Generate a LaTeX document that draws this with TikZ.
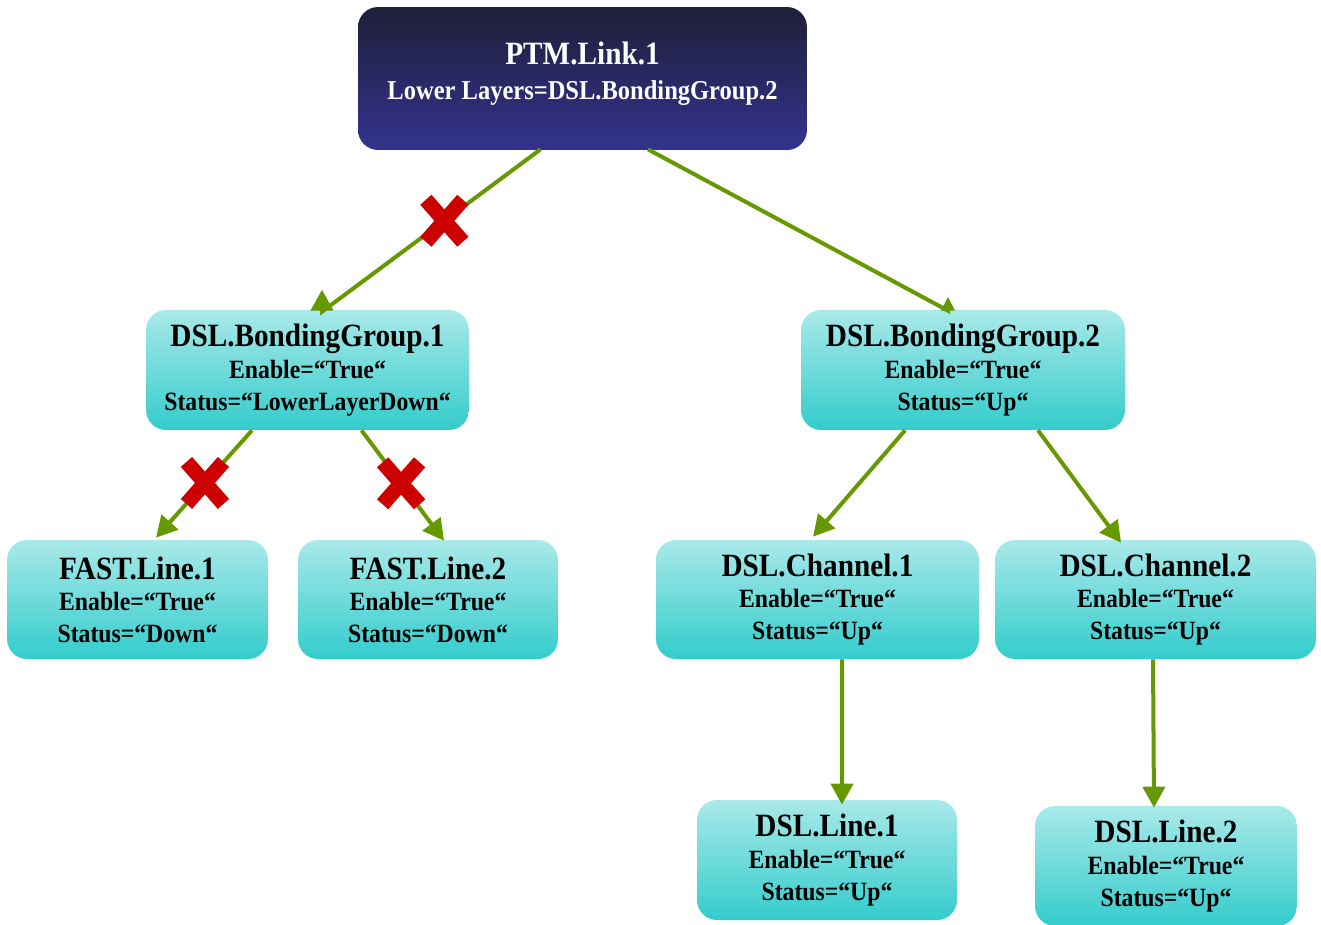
\documentclass[tikz,border=0pt]{standalone}
\usepackage{fontspec}
\setmainfont{Liberation Serif}
\newfontfamily\boxfont{Liberation Serif}[FakeStretch=0.9]
\usetikzlibrary{arrows.meta, calc, shapes.misc}
\definecolor{boxtop}{RGB}{170,233,233}
\definecolor{boxbot}{RGB}{51,204,204}
\definecolor{linktop}{RGB}{31,31,56}
\definecolor{linkbot}{RGB}{51,51,143}
\definecolor{wiregreen}{RGB}{102,153,0}
\definecolor{failred}{RGB}{204,0,0}
\newcommand{\boxtitle}[1]{{\fontsize{18.5}{18}\selectfont #1}}

\begin{document}
\begin{tikzpicture}[x=0.02cm,y=-0.02cm,
  every node/.style={font=\boxfont\bfseries\fontsize{15}{18}\selectfont,align=center},
  obj/.style={rounded corners=0.4cm,top color=boxtop,bottom color=boxbot,minimum width=6.46cm,minimum height=2.4cm,inner sep=0pt},
  wire/.style={-{Triangle[length=0.42cm,width=0.44cm]},line width=0.08cm,wiregreen},
  fail/.style={cross out,draw=failred,line width=0.3cm,minimum width=0.74cm,minimum height=0.84cm,inner sep=0pt,outer sep=0pt}]
  \useasboundingbox (0,0) rectangle (1321,924);
  \node[obj,top color=linktop,bottom color=linkbot,text=white,text depth=0.32cm,minimum width=8.98cm,minimum height=2.86cm](ptm) at(582.5,78.5){\boxtitle{PTM.Link.1}\\[2pt]{\fontsize{15.5}{18}\selectfont Lower Layers=DSL.BondingGroup.2}};
  \node[obj](bg1) at(307.5,370){\boxtitle{DSL.BondingGroup.1}\\Enable=“True“\\Status=“LowerLayerDown“};
  \node[obj,minimum width=6.48cm](bg2) at(963,370){\boxtitle{DSL.BondingGroup.2}\\Enable=“True“\\Status=“Up“};
  \node[obj,minimum width=5.22cm,minimum height=2.38cm](fl1) at(137.5,599.5){\boxtitle{FAST.Line.1}\\Enable=“True“\\Status=“Down“};
  \node[obj,minimum width=5.2cm,minimum height=2.38cm](fl2) at(428,599.5){\boxtitle{FAST.Line.2}\\Enable=“True“\\Status=“Down“};
  \node[obj,minimum height=2.38cm](ch1) at(817.5,599.5){\boxtitle{DSL.Channel.1}\\Enable=“True“\\Status=“Up“};
  \node[obj,minimum width=6.42cm,minimum height=2.38cm](ch2) at(1155.5,599.5){\boxtitle{DSL.Channel.2}\\Enable=“True“\\Status=“Up“};
  \node[obj,minimum width=5.2cm](ln1) at(827,860){\boxtitle{DSL.Line.1}\\Enable=“True“\\Status=“Up“};
  \node[obj,minimum width=5.24cm](ln2) at(1166,866){\boxtitle{DSL.Line.2}\\Enable=“True“\\Status=“Up“};
  \draw[wire]($(ptm.south)+(-42,-1)$)--node[fail,pos=0.44]{}($(bg1.north)+(14.5,2)$)--++(0,-22);
  \draw[wire,-{Triangle[length=0.28cm,width=0.26cm]}]($(ptm.south)+(65.5,-1)$)--($(bg2.north)+(-15,1)$)--++(0,-14);
  \draw[wire]($(bg1.south)+(-55.5,0)$)--node[fail,pos=0.49]{}($(fl1.north)+(18.5,-2)$);
  \draw[wire]($(bg1.south)+(54,0)$)--node[fail,pos=0.48]{}($(fl2.north)+(16,1)$);
  \draw[wire]($(bg2.south)+(-58,0)$)--($(ch1.north)+(-4.5,-3)$);
  \draw[wire]($(bg2.south)+(75,0)$)--($(ch2.north)+(-34.5,3)$);
  \draw[wire]($(ch1.south)+(24.5,0)$)--($(ln1.north)+(15,5)$);
  \draw[wire]($(ch2.south)+(-2.5,0)$)--($(ln2.north)+(-12,2)$);
\end{tikzpicture}
\end{document}
